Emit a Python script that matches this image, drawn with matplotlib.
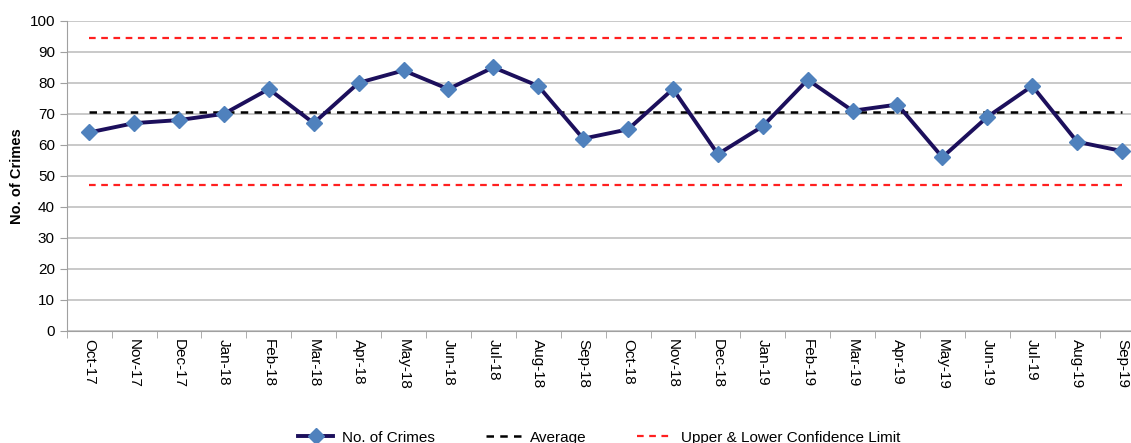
import matplotlib.pyplot as plt
import numpy as np

# Monthly crime counts
months = ['Oct-17', 'Nov-17', 'Dec-17', 'Jan-18', 'Feb-18', 'Mar-18', 'Apr-18', 'May-18',
          'Jun-18', 'Jul-18', 'Aug-18', 'Sep-18', 'Oct-18', 'Nov-18', 'Dec-18', 'Jan-19',
          'Feb-19', 'Mar-19', 'Apr-19', 'May-19', 'Jun-19', 'Jul-19', 'Aug-19', 'Sep-19']
crimes = [64, 67, 68, 70, 78, 67, 80, 84, 78, 85, 79, 62,
          65, 78, 57, 66, 81, 71, 73, 56, 69, 79, 61, 58]
average = 70.67
upper_limit = 94.3
lower_limit = 47.0

plt.rcParams['font.family'] = ['Liberation Sans', 'DejaVu Sans']

fig = plt.figure(figsize=(11.31, 4.43), dpi=100)
ax = fig.add_axes([0.059, 0.253, 0.941, 0.700])

x = np.arange(len(months))
ax.plot(x, crimes, color='#1c0f5c', lw=2.8, marker='D', ms=8.5,
        mfc='#4f81bd', mec='#4f81bd', label='No. of Crimes', zorder=4)
ax.plot([x[0], x[-1]], [average, average], color='black', ls=(0, (3, 2.5)), lw=1.8,
        label='Average', zorder=3)
ax.plot([x[0], x[-1]], [upper_limit, upper_limit], color='#ff2020', ls=(0, (3, 2.5)), lw=1.6,
        label='Upper & Lower Confidence Limit', zorder=3)
ax.plot([x[0], x[-1]], [lower_limit, lower_limit], color='#ff2020', ls=(0, (3, 2.5)), lw=1.6,
        zorder=3)

ax.set_ylim(0, 100)
ax.set_yticks(range(0, 101, 10))
ax.set_xlim(-0.5, 23.2)
ax.set_xticks(x)
ax.set_xticklabels(months, rotation=-90, fontsize=11)
ax.set_xticks(np.arange(-0.5, 23.5, 1), minor=True)
ax.tick_params(axis='x', which='major', length=0, pad=6)
ax.tick_params(axis='x', which='minor', length=5, color='#a0a0a0')
ax.tick_params(axis='y', labelsize=11, length=5, color='#a0a0a0')
ax.grid(axis='y', color='#c0c0c0', lw=1.2)
ax.set_axisbelow(True)
for s in ['top', 'right']:
    ax.spines[s].set_visible(False)
ax.spines['left'].set_color('#a0a0a0')
ax.spines['bottom'].set_color('#a0a0a0')
ax.set_ylabel('No. of Crimes', fontsize=10.5, fontweight='bold', labelpad=4)

fig.legend(loc='lower center', bbox_to_anchor=(0.53, -0.035), ncol=3, frameon=False,
           fontsize=11, handlelength=2.3, handletextpad=0.6, columnspacing=3.3)

plt.savefig('out.png', dpi=100)
